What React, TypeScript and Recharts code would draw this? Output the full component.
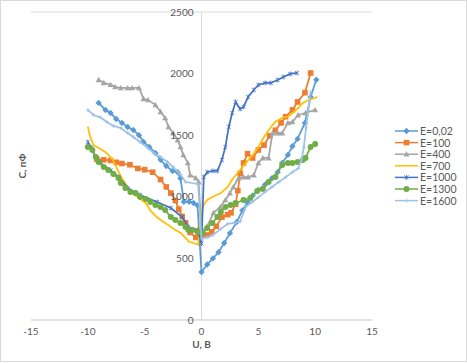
import { ScatterChart, Scatter, XAxis, YAxis, CartesianGrid, ReferenceLine, ReferenceDot, Legend } from 'recharts';

// U (В) -> C (пФ)
const xTicks = [-15, -10, -5, 0, 5, 10, 15];
const yTicks = [0, 500, 1000, 1500, 2000, 2500];

const e002: [number, number][] = [
  [-9.05, 1762], [-8.45, 1705], [-8.0, 1680], [-7.5, 1632], [-7.0, 1600], [-6.5, 1567], [-6.0, 1542],
  [-5.5, 1500], [-5.1, 1445], [-4.6, 1405], [-4.05, 1356], [-3.6, 1300], [-3.1, 1250], [-2.55, 1210],
  [-2.1, 1200], [-1.85, 1150], [-1.55, 960], [-1.1, 960], [-0.7, 950], [-0.35, 930], [0, 390],
  [0.5, 450], [1.0, 500], [1.5, 550], [2.0, 625], [2.5, 705], [3.1, 795], [3.6, 890], [4.05, 955],
  [4.5, 1010], [5.0, 1055], [5.6, 1100], [6.2, 1150], [6.7, 1200], [7.1, 1275], [7.6, 1340], [8.0, 1410],
  [8.45, 1470], [9.1, 1600], [9.6, 1810], [10.1, 1950],
];

const e100: [number, number][] = [
  [-9.2, 1305], [-8.6, 1300], [-8.0, 1295], [-7.5, 1280], [-7.0, 1270], [-6.3, 1260], [-5.6, 1230],
  [-5.0, 1220], [-4.3, 1200], [-3.6, 1140], [-3.1, 1080], [-2.7, 1030], [-2.3, 970], [-2.0, 900],
  [-1.7, 840], [-1.4, 790], [-1.0, 710], [-0.5, 670], [0, 680], [0.5, 690], [0.9, 715], [1.3, 760],
  [1.8, 835], [2.3, 855], [2.6, 870], [3.0, 940], [3.2, 1050], [3.4, 1190], [3.7, 1275], [4.05, 1350],
  [4.5, 1315], [5.0, 1380], [5.5, 1420], [6.0, 1495], [6.5, 1540], [7.0, 1600], [7.4, 1650], [8.0, 1705],
  [8.45, 1770], [9.1, 1845], [9.6, 2005],
];

const e400: [number, number][] = [
  [-9.05, 1950], [-8.6, 1925], [-8.0, 1910], [-7.6, 1892], [-7.1, 1884], [-6.5, 1884], [-6.1, 1884],
  [-5.5, 1884], [-5.1, 1795], [-4.7, 1786], [-4.05, 1746], [-3.6, 1690], [-3.2, 1640], [-2.9, 1567],
  [-2.5, 1518], [-2.1, 1461], [-1.85, 1405], [-1.6, 1340], [-1.2, 1275], [-1.0, 1177], [-0.5, 1153],
  [-0.25, 1120], [0, 720], [0.5, 760], [1.05, 870], [1.65, 917], [2.1, 975], [2.5, 1030], [2.8, 1080],
  [3.25, 1150], [3.7, 1160], [4.1, 1160], [4.6, 1177], [5.0, 1275], [5.4, 1315], [5.9, 1315], [6.25, 1518],
  [6.7, 1518], [7.1, 1518], [7.6, 1600], [8.0, 1608], [8.5, 1664], [9.15, 1680], [10.0, 1705],
];

const e700: [number, number][] = [
  [-10.0, 1570], [-9.8, 1490], [-9.5, 1420], [-9.0, 1395], [-8.4, 1360], [-7.8, 1300], [-7.4, 1220],
  [-7.0, 1150], [-6.5, 1080], [-6.1, 1030], [-5.5, 990], [-4.9, 950], [-4.5, 890], [-4.0, 840],
  [-3.4, 800], [-2.9, 770], [-2.3, 730], [-1.8, 705], [-1.4, 665], [-1.1, 635], [-0.7, 625], [-0.3, 610],
  [0, 870], [0.2, 935], [0.5, 975], [1.0, 1000], [1.7, 1030], [2.3, 1080], [2.7, 1140], [3.2, 1195],
  [3.9, 1275], [4.5, 1340], [5.0, 1405], [5.5, 1485], [6.1, 1565], [6.5, 1610], [7.1, 1640], [7.6, 1650],
  [8.0, 1680], [8.5, 1720], [8.9, 1760], [9.4, 1785], [10.2, 1810],
];

const e1000: [number, number][] = [
  [-10.0, 1445], [-9.7, 1400], [-9.3, 1323], [-8.9, 1275], [-8.0, 1215], [-7.3, 1161], [-6.5, 1072],
  [-5.4, 1015], [-3.9, 958], [-2.7, 909], [-1.7, 836], [-1.15, 755], [-0.35, 731], [0, 620], [0.2, 1160],
  [0.5, 1200], [1.0, 1210], [1.4, 1210], [1.8, 1300], [2.1, 1405], [2.4, 1567], [2.7, 1680], [3.0, 1770],
  [3.4, 1713], [3.7, 1730], [4.1, 1810], [4.6, 1867], [5.0, 1908], [5.6, 1924], [6.1, 1924], [6.7, 1948],
  [7.2, 1973], [7.8, 1997], [8.4, 2005],
];

const e1300: [number, number][] = [
  [-10.0, 1405], [-9.6, 1380], [-9.3, 1323], [-9.05, 1283], [-8.6, 1242], [-8.2, 1218], [-7.75, 1185],
  [-7.3, 1153], [-7.1, 1112], [-6.7, 1072], [-6.25, 1039], [-5.8, 1031], [-5.4, 999], [-4.9, 982],
  [-4.5, 958], [-4.05, 934], [-3.6, 917], [-3.2, 893], [-2.7, 836], [-2.3, 812], [-1.85, 788], [-1.4, 755],
  [-1.15, 731], [-0.8, 731], [-0.35, 714], [0.1, 706], [0.5, 747], [0.95, 788], [1.4, 836], [1.7, 877],
  [2.1, 917], [2.55, 934], [3.0, 950], [3.7, 974], [4.3, 990], [4.9, 1047], [5.4, 1064], [5.9, 1120],
  [6.5, 1161], [7.1, 1259], [7.6, 1275], [8.0, 1275], [8.45, 1283], [8.9, 1299], [9.15, 1315], [9.6, 1405],
  [10.0, 1429],
];

const e1600: [number, number][] = [
  [-10.0, 1705], [-9.5, 1664], [-8.9, 1645], [-8.3, 1605], [-7.75, 1575], [-7.1, 1559], [-6.5, 1518],
  [-6.0, 1486], [-5.4, 1445], [-4.75, 1397], [-4.2, 1356], [-3.6, 1323], [-3.0, 1283], [-2.5, 1242],
  [-1.85, 1180], [-1.4, 1120], [-0.3, 1104], [0, 660], [0.5, 670], [1.0, 690], [1.7, 740], [2.3, 780],
  [3.0, 790], [3.4, 800], [3.9, 920], [4.5, 960], [5.0, 995], [5.6, 1040], [6.2, 1080], [6.8, 1120],
  [7.4, 1160], [8.0, 1200], [8.5, 1230], [8.8, 1300], [9.0, 1400], [9.2, 1560], [9.4, 1700], [9.6, 1850],
];

type Marker = 'diamond' | 'square' | 'triangle' | 'none' | 'star' | 'plus' | 'circle';

const series: { name: string; data: [number, number][]; color: string; marker: Marker }[] = [
  { name: 'E=0,02', data: e002, color: '#5B9BD5', marker: 'diamond' },
  { name: 'E=100', data: e100, color: '#ED7D31', marker: 'square' },
  { name: 'E=400', data: e400, color: '#A5A5A5', marker: 'triangle' },
  { name: 'E=700', data: e700, color: '#FFC000', marker: 'none' },
  { name: 'E=1000', data: e1000, color: '#4472C4', marker: 'star' },
  { name: 'E=1300', data: e1300, color: '#70AD47', marker: 'circle' },
  { name: 'E=1600', data: e1600, color: '#9DC3E6', marker: 'plus' },
];

function drawMarker(kind: Marker, cx: number, cy: number, color: string) {
  if (cx == null || cy == null) return <g />;
  switch (kind) {
    case 'diamond':
      return <path d={`M${cx},${cy - 3.2}L${cx + 3.2},${cy}L${cx},${cy + 3.2}L${cx - 3.2},${cy}Z`} fill={color} />;
    case 'square':
      return <rect x={cx - 2.8} y={cy - 2.8} width={5.6} height={5.6} fill={color} />;
    case 'triangle':
      return <path d={`M${cx},${cy - 3}L${cx + 3},${cy + 2.4}L${cx - 3},${cy + 2.4}Z`} fill={color} />;
    case 'circle':
      return <circle cx={cx} cy={cy} r={3} fill={color} />;
    case 'star':
      return (
        <path
          d={`M${cx - 2},${cy - 2}L${cx + 2},${cy + 2}M${cx - 2},${cy + 2}L${cx + 2},${cy - 2}M${cx},${cy - 2.5}L${cx},${cy + 2.5}`}
          stroke={color}
          strokeWidth={0.8}
        />
      );
    case 'plus':
      return <path d={`M${cx - 2},${cy}L${cx + 2},${cy}M${cx},${cy - 2}L${cx},${cy + 2}`} stroke={color} strokeWidth={0.8} />;
    default:
      return <g />;
  }
}

const renderLegend = () => (
  <svg width={72} height={86}>
    {series.map((s, i) => {
      const cy = 6 + i * 11.6;
      return (
        <g key={s.name}>
          <line x1={2} x2={25} y1={cy} y2={cy} stroke={s.color} strokeWidth={1.5} />
          {drawMarker(s.marker, 13.5, cy, s.color)}
          <text x={27} y={cy} dominantBaseline="central" fontSize={10.5} fill="#595959">
            {s.name}
          </text>
        </g>
      );
    })}
  </svg>
);

const renderYTitle = (props: any) => {
  const vb = props.viewBox || {};
  const x = (vb.x ?? 0) + 22;
  const y = (vb.y ?? 0) + (vb.height ?? 0) / 2;
  return (
    <text
      x={x}
      y={y}
      transform={`rotate(-90 ${x} ${y})`}
      textAnchor="middle"
      dominantBaseline="central"
      fontSize={10}
      fontWeight="bold"
      fill="#595959"
    >
      С, пФ
    </text>
  );
};

export default function App() {
  return (
    <div style={{ position: 'absolute', left: 0, top: 0, width: 467, height: 363, background: '#fff', fontFamily: 'Lato, sans-serif' }}>
      <div
        style={{
          position: 'absolute',
          left: 0,
          top: 0,
          width: 467,
          height: 362,
          boxSizing: 'border-box',
          border: '1px solid #D9D9D9',
        }}
      />
      <div style={{ position: 'absolute', left: 0, top: 0 }}>
        <ScatterChart width={467} height={363} margin={{ top: 12, right: 95, bottom: 13, left: 0 }}>
          <CartesianGrid vertical={false} stroke="#D9D9D9" />
          <XAxis
            type="number"
            dataKey="x"
            domain={[-15, 15]}
            ticks={xTicks}
            height={30}
            tickLine={false}
            axisLine={{ stroke: '#D9D9D9' }}
            tick={{ fill: '#595959', fontSize: 10 }}
            label={{ value: 'U, В', position: 'insideBottom', offset: 2, fill: '#595959', fontSize: 10, fontWeight: 'bold' }}
          />
          <YAxis
            type="number"
            dataKey="y"
            domain={[0, 2500]}
            ticks={yTicks}
            width={31}
            tick={false}
            tickLine={false}
            axisLine={false}
            label={{ content: renderYTitle }}
          />
          <ReferenceLine x={0} stroke="#D9D9D9" />
          {yTicks.map((t) => (
            <ReferenceDot
              key={t}
              x={0}
              y={t}
              r={0}
              fill="none"
              stroke="none"
              label={{ value: String(t), position: 'left', offset: 8, fill: '#595959', fontSize: 10 }}
            />
          ))}
          {series.map((s) => (
            <Scatter
              key={s.name}
              name={s.name}
              data={s.data.map(([x, y]) => ({ x, y }))}
              fill={s.color}
              line={{ stroke: s.color, strokeWidth: 1.75 }}
              lineType="joint"
              shape={(p: any) => drawMarker(s.marker, p.cx, p.cy, s.color)}
              isAnimationActive={false}
            />
          ))}
          <Legend
            layout="vertical"
            align="center"
            verticalAlign="middle"
            content={renderLegend}
            wrapperStyle={{ left: 393, top: 125, width: 72 }}
          />
        </ScatterChart>
      </div>
    </div>
  );
}
